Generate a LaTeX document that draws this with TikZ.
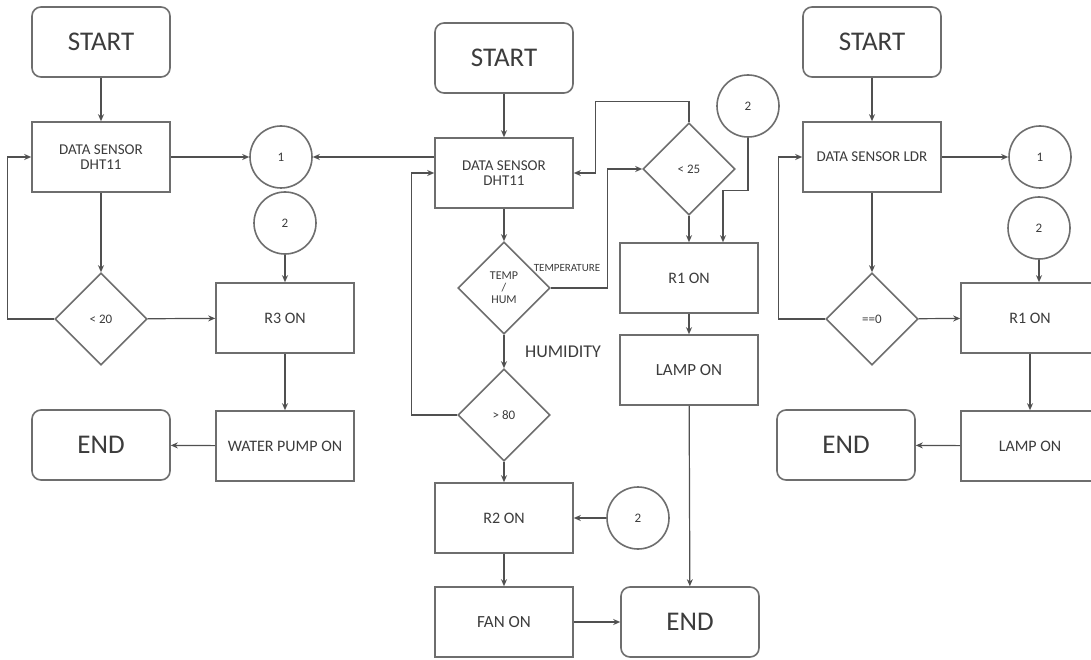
\documentclass[tikz,border=0pt]{standalone}
\usepackage{fontspec}
\setmainfont{Carlito}
\usetikzlibrary{shapes.geometric,arrows.meta}
\definecolor{linec}{RGB}{80,80,80}
\definecolor{boxc}{RGB}{110,110,110}
\definecolor{textc}{RGB}{60,60,60}
\newcommand{\fs}[1]{\fontsize{#1}{#1}\selectfont}
\begin{document}
\begin{tikzpicture}[x=1pt,y=-1pt,
  every node/.style={text=textc},
  base/.style={draw=boxc,line width=1.6pt},
  term/.style={base,rounded corners=9pt,minimum width=138pt,minimum height=70pt,font=\fs{27}},
  proc/.style={base,minimum width=138pt,minimum height=70pt,font=\fs{16}},
  dec/.style={base,diamond,minimum size=92pt,inner sep=0pt,font=\fs{13},align=center},
  conn/.style={base,circle,minimum size=62pt,inner sep=0pt,font=\fs{13}},
  lbl/.style={inner sep=0pt},
  arr/.style={draw=linec,line width=1.2pt,-{Stealth[length=7pt,width=6pt]}}]
\useasboundingbox[fill=white] (0,0) rectangle (1091,660);

% ---------- left flow ----------
\node[term] (s1) at (101,42) {START};
\node[proc,align=center,font=\fs{15}] (d1) at (101,157) {DATA SENSOR\\DHT11};
\node[conn] (c1a) at (281,157) {1};
\node[conn] (c2a) at (285,223) {2};
\node[dec] (dec1) at (101,319) {< 20};
\node[proc] (r3) at (285,318) {R3 ON};
\node[proc] (wp) at (285,446) {WATER PUMP ON};
\node[term] (e1) at (101,445) {END};

\draw[arr] (s1) -- (d1);
\draw[arr] (d1) -- (dec1);
\draw[arr] (dec1.west) -- ++(-47,0) |- (d1.west);
\draw[arr] (d1) -- (c1a);
\draw[arr] (dec1) -- (r3);
\draw[arr] (c2a) -- (r3);
\draw[arr] (r3) -- (wp);
\draw[arr] (wp) -- (e1);

% ---------- middle flow ----------
\node[term] (s2) at (504,58) {START};
\node[proc,align=center,font=\fs{15}] (d2) at (504,173) {DATA SENSOR\\DHT11};
\node[dec,font=\fs{12}] (dec2) at (504,288) {TEMP\\/\\HUM};
\node[dec] (dec25) at (689,169) {< 25};
\node[conn] (c2b) at (748,106) {2};
\node[proc] (r1) at (689,278) {R1 ON};
\node[proc,font=\fs{17}] (lamp2) at (689,370) {LAMP ON};
\node[term] (e2) at (690,622) {END};
\node[dec] (dec3) at (504,415) {> 80};
\node[proc] (r2) at (504,518) {R2 ON};
\node[conn] (c2c) at (638,518) {2};
\node[proc,font=\fs{17}] (fan) at (504,622) {FAN ON};
\node[lbl,font=\fs{11}] (tlab) at (567,268) {TEMPERATURE};
\node[lbl,font=\fs{18}] (hlab) at (563,352) {HUMIDITY};

\draw[arr] (s2) -- (d2);
\draw[arr] (d2.west |- c1a) -- (c1a.east);
\draw[arr] (d2) -- (dec2);
\draw[arr] (dec2.east) -- ++(57,0) |- (dec25.west);
\draw[arr] (dec25.north) -- ++(0,-21) -| ([xshift=22pt]d2.east) -- (d2.east);
\draw[arr] (c2b.south) -- ++(0,53) -| ([xshift=34pt]r1.north);
\draw[arr] (dec25) -- (r1);
\draw[arr] (r1) -- (lamp2);
\draw[arr] (lamp2) -- (e2);
\draw[arr] (dec2) -- (dec3);
\draw[arr] (dec3.west) -- ++(-46,0) |- (d2.west);
\draw[arr] (dec3) -- (r2);
\draw[arr] (c2c) -- (r2);
\draw[arr] (r2) -- (fan);
\draw[arr] (fan) -- (e2);

% ---------- right flow ----------
\node[term] (s3) at (872,42) {START};
\node[proc,font=\fs{15}] (d3) at (872,157) {DATA SENSOR LDR};
\node[conn] (c1b) at (1040,157) {1};
\node[conn] (c2d) at (1039,228) {2};
\node[dec] (dec0) at (872,319) {==0};
\node[proc] (r1b) at (1030,318) {R1 ON};
\node[proc] (lamp3) at (1030,446) {LAMP ON};
\node[term] (e3) at (846,445) {END};

\draw[arr] (s3) -- (d3);
\draw[arr] (d3) -- (c1b);
\draw[arr] (d3) -- (dec0);
\draw[arr] (dec0.west) -- ++(-47,0) |- (d3.west);
\draw[arr] (dec0) -- (r1b);
\draw[arr] (c2d) -- (c2d |- r1b.north);
\draw[arr] (r1b) -- (lamp3);
\draw[arr] (lamp3) -- (e3);
\end{tikzpicture}
\end{document}
